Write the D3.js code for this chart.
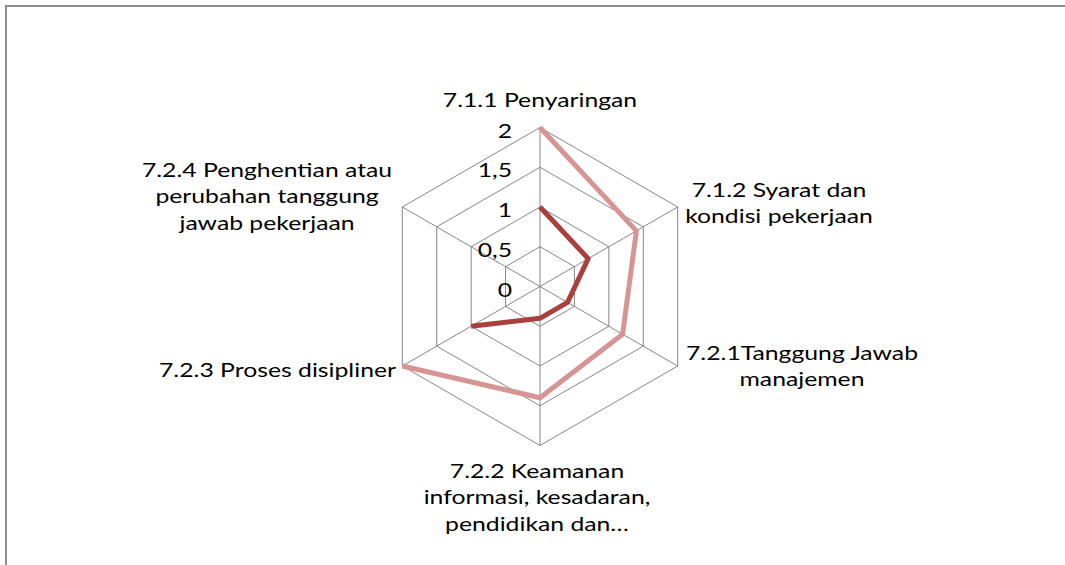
<!DOCTYPE html>
<html>
<head>
<meta charset="utf-8">
<script src="https://cdn.jsdelivr.net/npm/d3@7"></script>
<style>
  body { margin: 0; background: #fff; }
  svg { display: block; }
  .lbl { font-family: Lato, "Open Sans", sans-serif; font-size: 19.5px; fill: #000; }
</style>
</head>
<body>
<div id="chart"></div>
<script>
// categories, one per spoke (lines of each label split by "|")
var categories = [
  "7.1.1 Penyaringan",
  "7.1.2 Syarat dan|kondisi pekerjaan",
  "7.2.1Tanggung Jawab|manajemen",
  "7.2.2 Keamanan|informasi, kesadaran,|pendidikan dan…",
  "7.2.3 Proses disipliner",
  "7.2.4 Penghentian atau|perubahan tanggung|jawab pekerjaan"
];
// the last category has no value in either series
var seriesDark = [1, 0.7, 0.4, 0.4, 1, null];
var seriesLight = [2, 1.4, 1.2, 1.4, 2, null];
var tickValues = [0, 0.5, 1, 1.5, 2];
var tickLabels = ["0", "0,5", "1", "1,5", "2"];

var width = 1065, height = 565;
var cx = 540, cy = 286.5, radius = 159;
var stretch = 1.27; // the original text is wide for its height

var svg = d3.select("#chart").append("svg")
  .attr("width", width)
  .attr("height", height);

// outer frame
svg.append("rect")
  .attr("x", 6).attr("y", 6)
  .attr("width", width + 10).attr("height", height + 10)
  .attr("fill", "none")
  .attr("stroke", "#8c8c8c")
  .attr("stroke-width", 2);

var r = d3.scaleLinear().domain([0, 2]).range([0, radius]);
var angle = d3.scaleLinear().domain([0, categories.length]).range([0, 2 * Math.PI]);

function px(i, v) { return cx + r(v) * Math.sin(angle(i)); }
function py(i, v) { return cy - r(v) * Math.cos(angle(i)); }

var g = svg.append("g");

// hexagon grid
tickValues.slice(1).forEach(function(t) {
  var pts = categories.map(function(c, i) { return [px(i, t), py(i, t)]; });
  g.append("polygon")
    .attr("points", pts.map(function(p) { return p.join(","); }).join(" "))
    .attr("fill", "none")
    .attr("stroke", "#868686")
    .attr("stroke-width", 1);
});

// spokes
categories.forEach(function(c, i) {
  g.append("line")
    .attr("x1", cx).attr("y1", cy)
    .attr("x2", px(i, 2)).attr("y2", py(i, 2))
    .attr("stroke", "#868686")
    .attr("stroke-width", 1);
});

// value labels
g.selectAll(".tick")
  .data(tickValues)
  .enter().append("text")
  .attr("class", "lbl")
  .attr("text-anchor", "end")
  .attr("transform", function(d) {
    return "translate(" + (cx - 28) + "," + (cy - r(d) + 10) + ") scale(" + stretch + ",1)";
  })
  .text(function(d, i) { return tickLabels[i]; });

// series lines
var line = d3.line()
  .defined(function(d) { return d != null; })
  .x(function(d, i) { return px(i, d); })
  .y(function(d, i) { return py(i, d); });

g.append("path")
  .datum(seriesLight)
  .attr("d", line)
  .attr("fill", "none")
  .attr("stroke", "#d69593")
  .attr("stroke-width", 5)
  .attr("stroke-linejoin", "round");

g.append("path")
  .datum(seriesDark)
  .attr("d", line)
  .attr("fill", "none")
  .attr("stroke", "#a9403d")
  .attr("stroke-width", 5)
  .attr("stroke-linejoin", "round");

// category labels: anchor point + alignment
var labelPos = [
  { x: 540, y: 107, anchor: "middle" },
  { x: 779, y: 197, anchor: "middle" },
  { x: 802, y: 360, anchor: "middle" },
  { x: 537, y: 478, anchor: "middle" },
  { x: 396, y: 377, anchor: "end" },
  { x: 267, y: 177, anchor: "middle" }
];
var lineGap = 26.5;

categories.forEach(function(c, i) {
  var t = g.append("text")
    .attr("class", "lbl")
    .attr("text-anchor", labelPos[i].anchor)
    .attr("transform", "translate(" + labelPos[i].x + "," + labelPos[i].y + ") scale(" + stretch + ",1)");
  c.split("|").forEach(function(s, k) {
    t.append("tspan")
      .attr("x", 0)
      .attr("y", k * lineGap)
      .text(s);
  });
});
</script>
</body>
</html>
